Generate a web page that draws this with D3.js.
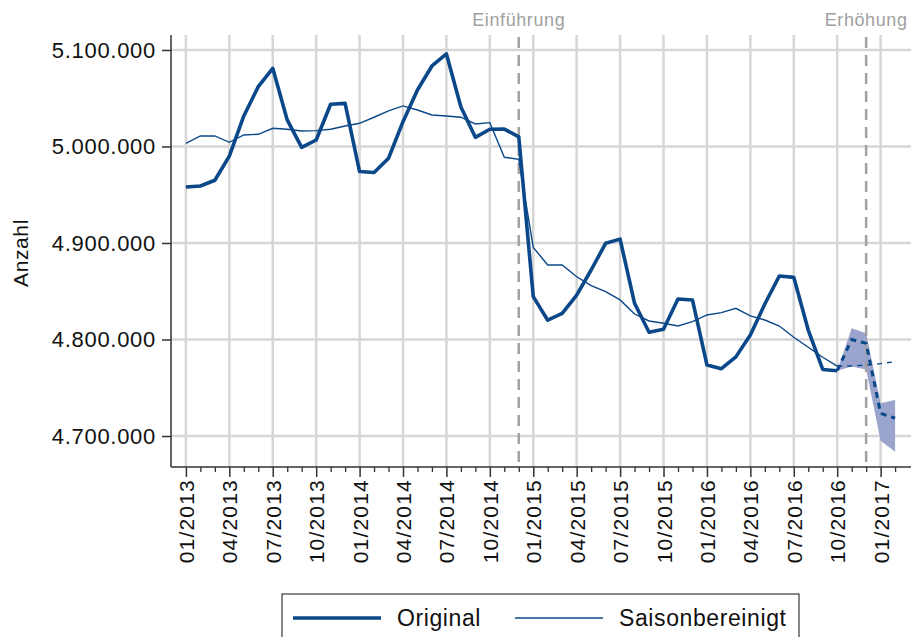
<!DOCTYPE html>
<html>
<head>
<meta charset="utf-8">
<script src="https://cdn.jsdelivr.net/npm/d3@7"></script>
<style>
  body { margin: 0; background: #fff; }
  svg { display: block; font-family: "Liberation Sans", Arial, sans-serif; }
</style>
</head>
<body>
<div id="chart"></div>
<script>
const original = [4958000, 4959000, 4965000, 4990000, 5031600, 5062000, 5081000, 5027500, 4999000, 5006700, 5043700, 5044700,
  4974000, 4973000, 4987800, 5025700, 5058500, 5083400, 5095900, 5041000, 5009500, 5017800, 5018000, 5010000,
  4844400, 4820000, 4827000, 4846000, 4872000, 4899700, 4904000, 4837500, 4807500, 4810600, 4842000, 4841000,
  4773600, 4769800, 4782000, 4804700, 4836800, 4865800, 4864400, 4809800, 4769000, 4767700];
const saisonbereinigt = [5003300, 5010900, 5010900, 5004300, 5011900, 5012600, 5018800, 5017800, 5016000, 5016400, 5017800, 5021200,
  5024000, 5030300, 5036800, 5042000, 5037800, 5032600, 5031600, 5030300, 5023300, 5024700, 4988800, 4986700,
  4895500, 4877200, 4877200, 4865000, 4855800, 4849600, 4841000, 4826400, 4819200, 4816800, 4814000, 4818500,
  4825400, 4827800, 4832300, 4824400, 4820200, 4814000, 4802300, 4792000, 4781600, 4772500];

// Prognose ab Index 45
const forecastStart = 45;
const forecastOriginal = [4767700, 4800000, 4796000, 4723500, 4718400];
const forecastUpper = [4767700, 4811600, 4806600, 4734000, 4737300];
const forecastLower = [4767700, 4772000, 4769000, 4695000, 4683700];
const forecastSaison = [4772500, 4772500, 4773600, 4775000, 4777000];

const eventMonths = [23, 47];
const eventLabels = ["Einführung", "Erhöhung"];

const xTickLabels = ["01/2013", "04/2013", "07/2013", "10/2013", "01/2014", "04/2014", "07/2014", "10/2014",
  "01/2015", "04/2015", "07/2015", "10/2015", "01/2016", "04/2016", "07/2016", "10/2016", "01/2017"];
const yTicks = [4700000, 4800000, 4900000, 5000000, 5100000];

const width = 912, height = 637;
const plot = { left: 171, right: 911, top: 35, bottom: 467 };
const navy = "#0a4889";
const grid = "#d6d6d6";

const svg = d3.select("#chart").append("svg")
  .attr("width", width)
  .attr("height", height);

const x = d3.scaleLinear().domain([-1.03, 50.1]).range([plot.left, plot.right]);
const y = d3.scaleLinear().domain([4667900, 5115500]).range([plot.bottom, plot.top]);

const majorMonths = xTickLabels.map((d, i) => i * 3);
const allMonths = d3.range(0, forecastStart + forecastOriginal.length);

// Gitter
svg.append("g").selectAll("line").data(yTicks).join("line")
  .attr("x1", plot.left).attr("x2", plot.right)
  .attr("y1", d => y(d)).attr("y2", d => y(d))
  .attr("stroke", grid).attr("stroke-width", 2.5);
svg.append("g").selectAll("line").data(majorMonths).join("line")
  .attr("x1", d => x(d)).attr("x2", d => x(d))
  .attr("y1", plot.top).attr("y2", plot.bottom)
  .attr("stroke", grid).attr("stroke-width", 2.5);

// Konfidenzband
const bandData = forecastUpper.map((u, i) => ({ m: forecastStart + i, lo: forecastLower[i], hi: u }));
svg.append("path")
  .datum(bandData)
  .attr("fill", "#9aa4cc")
  .attr("d", d3.area().x(d => x(d.m)).y0(d => y(d.lo)).y1(d => y(d.hi)));

// Ereignislinien
svg.append("g").selectAll("line").data(eventMonths).join("line")
  .attr("x1", d => x(d)).attr("x2", d => x(d))
  .attr("y1", plot.top + 2).attr("y2", plot.bottom)
  .attr("stroke", "#a2a2a2").attr("stroke-width", 2.5)
  .attr("stroke-dasharray", "11,7");
svg.append("g").selectAll("text").data(eventMonths).join("text")
  .attr("x", d => x(d)).attr("y", 26)
  .attr("text-anchor", "middle")
  .attr("font-size", "18px")
  .attr("letter-spacing", "0.6px")
  .attr("fill", "#a0a0a0")
  .text((d, i) => eventLabels[i]);

// Linien
const line = d3.line().x(d => x(d[0])).y(d => y(d[1]));
svg.append("path")
  .datum(saisonbereinigt.map((v, i) => [i, v]))
  .attr("fill", "none").attr("stroke", navy).attr("stroke-width", 1.4)
  .attr("d", line);
svg.append("path")
  .datum(forecastSaison.map((v, i) => [forecastStart + i, v]))
  .attr("fill", "none").attr("stroke", navy).attr("stroke-width", 1.4)
  .attr("stroke-dasharray", "5,5")
  .attr("d", line);
svg.append("path")
  .datum(original.map((v, i) => [i, v]))
  .attr("fill", "none").attr("stroke", navy).attr("stroke-width", 3.6)
  .attr("stroke-linejoin", "round")
  .attr("d", line);
svg.append("path")
  .datum(forecastOriginal.map((v, i) => [forecastStart + i, v]))
  .attr("fill", "none").attr("stroke", navy).attr("stroke-width", 3)
  .attr("stroke-dasharray", "6,5")
  .attr("d", line);

// Achsen
const yAxis = svg.append("g")
  .attr("transform", `translate(${plot.left},0)`)
  .call(d3.axisLeft(y).tickValues(yTicks).tickSize(9).tickPadding(6)
    .tickFormat(d => d3.format(",")(d).replace(/,/g, ".")));
yAxis.select(".domain").attr("d", `M0,${plot.top}V${plot.bottom}`).attr("stroke", "#333").attr("stroke-width", 1.5);
yAxis.selectAll(".tick line").attr("stroke", "#333").attr("stroke-width", 1.5);
yAxis.selectAll("text").attr("font-size", "22px").attr("letter-spacing", "0.7px").attr("fill", "#111")
  .attr("font-family", "Liberation Sans, Arial, sans-serif");

const xMinor = svg.append("g")
  .attr("transform", `translate(0,${plot.bottom})`)
  .call(d3.axisBottom(x).tickValues(allMonths.filter(m => m % 3 !== 0)).tickSize(5).tickFormat(""));
xMinor.select(".domain").remove();
xMinor.selectAll(".tick line").attr("stroke", "#333").attr("stroke-width", 1.3);

const xAxis = svg.append("g")
  .attr("transform", `translate(0,${plot.bottom})`)
  .call(d3.axisBottom(x).tickValues(majorMonths).tickSize(10)
    .tickFormat((d, i) => xTickLabels[i]));
xAxis.select(".domain").attr("d", `M${plot.left},0H${plot.right}`).attr("stroke", "#333").attr("stroke-width", 1.5);
xAxis.selectAll(".tick line").attr("stroke", "#333").attr("stroke-width", 1.5);
xAxis.selectAll("text")
  .attr("transform", "rotate(-90)")
  .attr("text-anchor", "end")
  .attr("x", -12).attr("y", 0).attr("dy", "0.36em")
  .attr("font-size", "21px").attr("letter-spacing", "1.2px").attr("fill", "#111")
  .attr("font-family", "Liberation Sans, Arial, sans-serif");

// Achsentitel
svg.append("text")
  .attr("transform", `translate(28,253) rotate(-90)`)
  .attr("text-anchor", "middle")
  .attr("font-size", "21px").attr("letter-spacing", "0.6px").attr("fill", "#111")
  .text("Anzahl");

// Legende
const legend = svg.append("g");
legend.append("rect")
  .attr("x", 282).attr("y", 594).attr("width", 517).attr("height", 52)
  .attr("fill", "#fff").attr("stroke", "#111").attr("stroke-width", 1);
const legendItems = [
  { label: "Original", width: 3.6, x: 293 },
  { label: "Saisonbereinigt", width: 1.4, x: 515 }
];
legendItems.forEach(it => {
  legend.append("line")
    .attr("x1", it.x).attr("x2", it.x + 88)
    .attr("y1", 618).attr("y2", 618)
    .attr("stroke", navy).attr("stroke-width", it.width);
  legend.append("text")
    .attr("x", it.x + 104).attr("y", 626)
    .attr("font-size", "23px").attr("letter-spacing", "0.6px").attr("fill", "#111")
    .text(it.label);
});
</script>
</body>
</html>
